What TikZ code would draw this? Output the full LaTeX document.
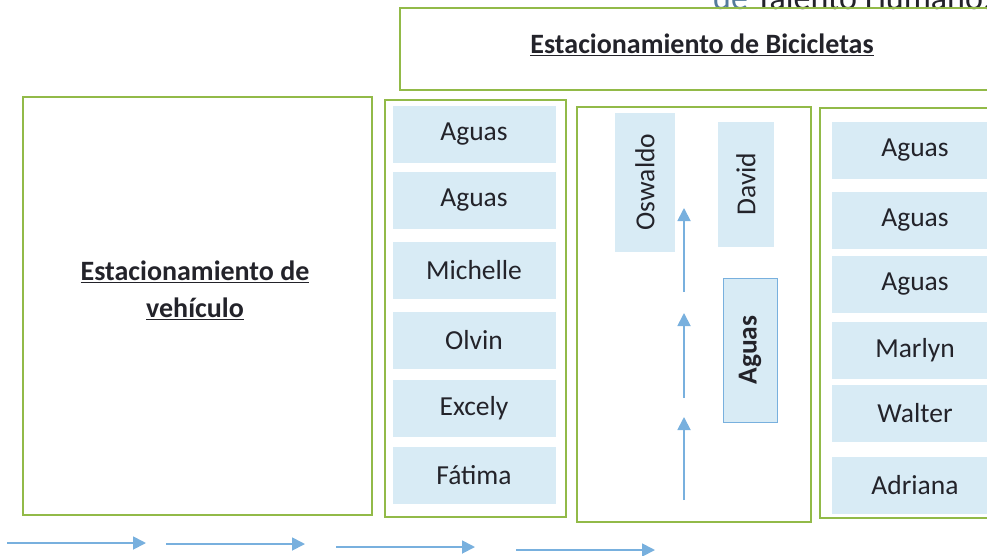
\documentclass[tikz,border=0pt]{standalone}
\usepackage{fontspec}
\setmainfont{Carlito}
\usetikzlibrary{arrows.meta}
\definecolor{boxgreen}{RGB}{146,186,72}
\definecolor{cellblue}{RGB}{216,235,245}
\definecolor{arrowblue}{RGB}{120,176,222}
\definecolor{txtgray}{RGB}{35,35,42}
\tikzset{
  area/.style={draw=boxgreen, line width=1.6pt},
  cell/.style={fill=cellblue, inner sep=0pt, text=txtgray, font=\fontsize{27.5}{31}\selectfont},
  rowcell/.style={cell, minimum width=163pt, minimum height=57pt},
  title/.style={text=txtgray, align=center, font=\fontsize{28}{37}\selectfont\bfseries},
  flow/.style={draw=arrowblue, line width=1.8pt, -{Triangle[length=13pt,width=13pt]}}
}

\begin{document}
\begin{tikzpicture}[x=1pt, y=-1pt]
		%%%%% START %%%%%
		\useasboundingbox (0,0) rectangle (987,555);
		
		% heading, cut at the top
		\node[anchor=base west, inner sep=0pt, text=txtgray, font=\fontsize{34}{40}\selectfont] (dept) at (713, 9) {{\color{arrowblue!70!black}de} Talento Humano.};
		
		% bicycle parking
		\draw[area] (1010, 8) -- (400, 8) -- (400, 90) -- (1010, 90);
		\node[title] (bikes) at (702, 45) {\underline{Estacionamiento de Bicicletas}};
		
		% vehicle parking
		\draw[area] (23, 97) rectangle (372, 515);
		\node[title] (cars) at (195, 290) {\underline{Estacionamiento de}\\\underline{vehículo}};
		
		% first column
		\draw[area] (385, 100) rectangle (566, 517);
		\node[rowcell] (a1) at (474, 134) {Aguas};
		\node[rowcell] (a2) at (474, 200) {Aguas};
		\node[rowcell] (a3) at (474, 270) {Michelle};
		\node[rowcell] (a4) at (474, 340) {Olvin};
		\node[rowcell] (a5) at (474, 408) {Excely};
		\node[rowcell] (a6) at (474, 475) {Fátima};
		
		% middle column
		\draw[area] (577, 107) rectangle (811, 522);
		\node[cell, rotate=90, minimum width=139pt, minimum height=60pt] (osw) at (645, 182) {Oswaldo};
		\node[cell, rotate=90, minimum width=125pt, minimum height=56pt] (dav) at (746, 184) {David};
		\node[cell, rotate=90, draw=arrowblue, line width=0.8pt, minimum width=144pt, minimum height=54pt, font=\fontsize{27.5}{31}\selectfont\bfseries] (agm) at (750, 350) {Aguas};
		
		\coordinate (u1) at (684, 500);
		\coordinate (u2) at (684, 417);
		\coordinate (u3) at (684, 398);
		\coordinate (u4) at (684, 313);
		\coordinate (u5) at (684, 292);
		\coordinate (u6) at (684, 208);
		\draw[flow] (u1) -- (u2);
		\draw[flow] (u3) -- (u4);
		\draw[flow] (u5) -- (u6);
		
		% last column
		\draw[area] (1010, 108) -- (820, 108) -- (820, 518) -- (1010, 518);
		\node[rowcell, minimum width=166pt] (b1) at (915, 150) {Aguas};
		\node[rowcell, minimum width=166pt] (b2) at (915, 220) {Aguas};
		\node[rowcell, minimum width=166pt] (b3) at (915, 284) {Aguas};
		\node[rowcell, minimum width=166pt] (b4) at (915, 350) {Marlyn};
		\node[rowcell, minimum width=166pt] (b5) at (915, 413) {Walter};
		\node[rowcell, minimum width=166pt] (b6) at (915, 485) {Adriana};
		
		% entrance arrows
		\coordinate (r1) at (7, 543);
		\coordinate (r2) at (146, 543);
		\coordinate (r3) at (166, 544);
		\coordinate (r4) at (305, 544);
		\coordinate (r5) at (336, 547);
		\coordinate (r6) at (475, 547);
		\coordinate (r7) at (516, 550);
		\coordinate (r8) at (655, 550);
		\draw[flow] (r1) -- (r2);
		\draw[flow] (r3) -- (r4);
		\draw[flow] (r5) -- (r6);
		\draw[flow] (r7) -- (r8);
		
		%%%%% END %%%%%
\end{tikzpicture}
\end{document}
